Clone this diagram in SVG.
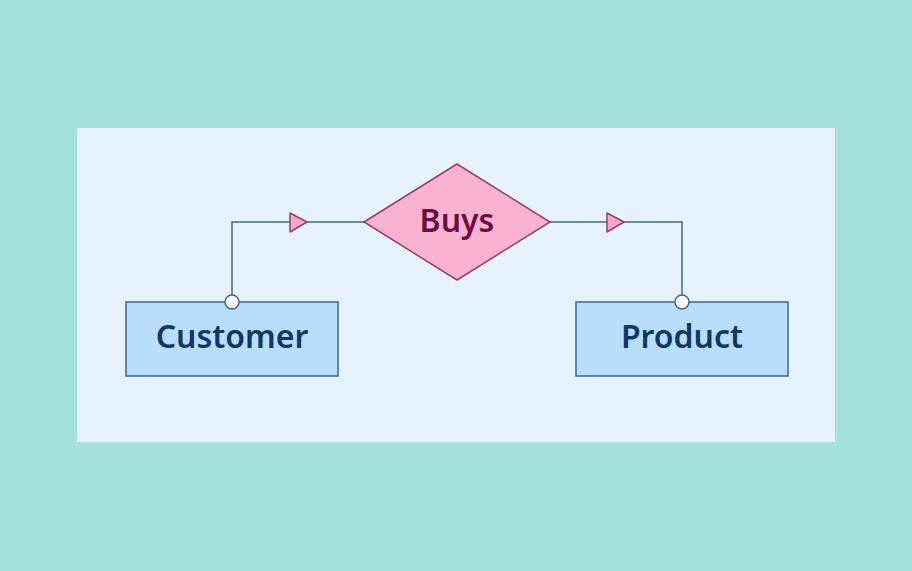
<svg xmlns="http://www.w3.org/2000/svg" width="912" height="571" viewBox="0 0 912 571">
  <style>
    .entity rect { fill: #b8defb; stroke: #3a6796; stroke-width: 1.5; }
    .entity text { font-family: "Noto Sans", "Open Sans", sans-serif; font-weight: 600; font-size: 32px; fill: #0e3868; text-anchor: middle; }
    .rel polygon { fill: #f9b3d1; stroke: #9a3d6c; stroke-width: 1.5; }
    .rel text { font-family: "Noto Sans", "Open Sans", sans-serif; font-weight: 600; font-size: 32px; fill: #6a0f42; text-anchor: middle; }
    .conn path { fill: none; stroke: #3a6a8a; stroke-width: 1.5; }
    .conn .arrow { fill: #f7a9cc; stroke: #9a3d6c; stroke-width: 1.5; stroke-linejoin: round; }
    .conn circle { fill: #ffffff; stroke: #3a6a8a; stroke-width: 1.5; }
  </style>
  <rect x="0" y="0" width="912" height="571" fill="#a3e2dc"/>
  <rect x="77" y="128" width="758" height="314" fill="#e6f3fe"/>
  <g id="connectors" class="conn">
    <path d="M232,302 V222 H364"/>
    <path d="M550,222 H682 V302"/>
    <polygon class="arrow" points="290,213 307,222 290,232"/>
    <polygon class="arrow" points="607,213 624,222 607,232"/>
  </g>
  <g id="customer" class="entity">
    <rect x="126" y="302" width="212" height="74"/>
    <text x="232" y="348">Customer</text>
  </g>
  <g id="product" class="entity">
    <rect x="576" y="302" width="212" height="74"/>
    <text x="682" y="348">Product</text>
  </g>
  <g id="buys" class="rel">
    <polygon points="364,222 457,164 550,222 457,280"/>
    <text x="457" y="232">Buys</text>
  </g>
  <g id="ports" class="conn">
    <circle cx="232" cy="302" r="7"/>
    <circle cx="682" cy="302" r="7"/>
  </g>
</svg>
